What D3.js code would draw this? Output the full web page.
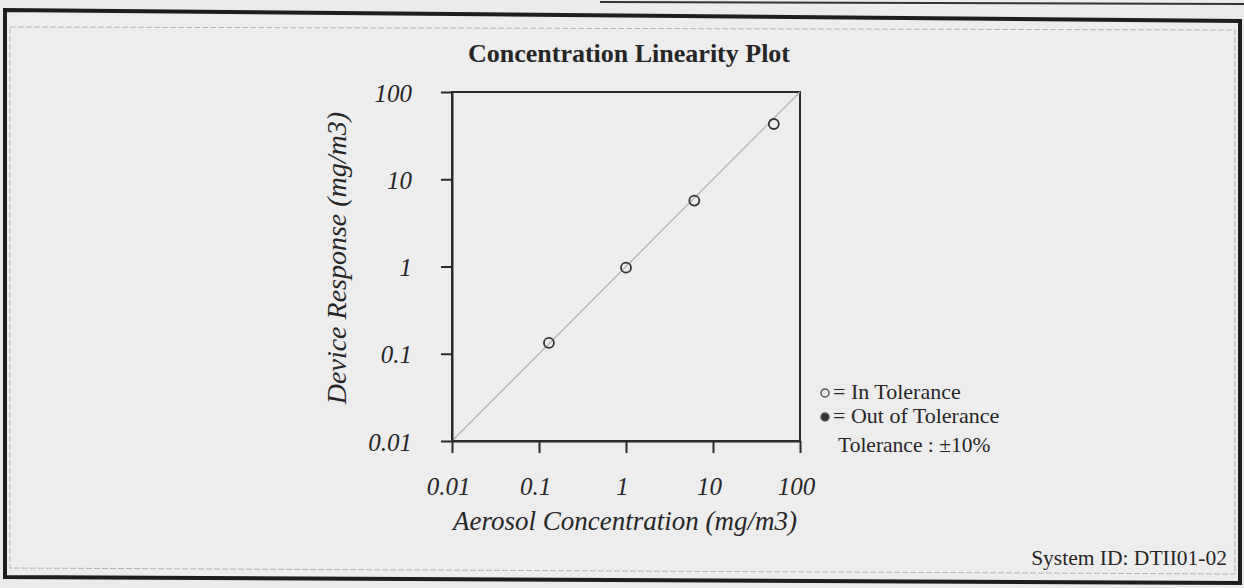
<!DOCTYPE html>
<meta charset="utf-8">
<style>
  body { margin: 0; background: #ebebeb; }
  svg { display: block; }
  text { font-family: "Liberation Serif", "Times New Roman", serif; fill: #262626; }
</style>
<body>
<svg width="1244" height="588"></svg>

<script src="https://d3js.org/d3.v7.min.js"></script>
<script>

// values
var concentration = [0.13, 1.0, 6.1, 50];    // aerosol concentration (mg/m3)
var response      = [0.133, 0.97, 5.7, 43];   // device response (mg/m3)
var inTolerance   = [true, true, true, true];
var tickValues = [0.01, 0.1, 1, 10, 100];
var tickLabels = ["0.01", "0.1", "1", "10", "100"];
var identity   = [0.01, 100];   // the 1:1 reference line
var legendItems = ["= In Tolerance", "= Out of Tolerance"];

var svg = d3.select("svg");

// page border of the scanned report (slightly rotated in the scan)
svg.append("path")
    .attr("d", "M5,10 L1240,21 L1240,583 L5,577 Z")
    .attr("fill", "#ededed")
    .attr("stroke", "#1e1e1e")
    .attr("stroke-width", 4);
svg.append("path")
    .attr("d", "M10,27 L1235,30 L1235,574 L10,568 Z")
    .attr("fill", "none")
    .attr("stroke", "#b5b5b5")
    .attr("stroke-width", 1)
    .attr("stroke-dasharray", "6,2");
svg.append("line")
    .attr("x1", 600).attr("y1", 2).attr("x2", 1244).attr("y2", 4)
    .attr("stroke", "#333").attr("stroke-width", 2);

var x = d3.scaleLog().domain([0.01, 100]).range([452, 800]),
    y = d3.scaleLog().domain([0.01, 100]).range([441, 92]);

// title
svg.append("text")
    .attr("x", 629).attr("y", 62)
    .attr("text-anchor", "middle")
    .style("font-weight", "bold")
    .style("font-size", "26px")
    .text("Concentration Linearity Plot");

// frame
svg.append("rect")
    .attr("x", x(0.01)).attr("y", y(100))
    .attr("width", x(100) - x(0.01))
    .attr("height", y(0.01) - y(100))
    .attr("fill", "none")
    .attr("stroke", "#2a2a2a")
    .attr("stroke-width", 2);

// 1:1 line
svg.append("path")
    .datum(identity)
    .attr("d", d3.line().x(function(d) { return x(d); }).y(function(d) { return y(d); }))
    .attr("stroke", "#b0b0b0")
    .attr("stroke-width", 1.2)
    .attr("fill", "none");

// axes
var xAxis = svg.append("g")
    .attr("transform", "translate(0," + y(0.01) + ")")
    .call(d3.axisBottom(x).tickValues(tickValues).tickSize(12).tickSizeOuter(0)
        .tickFormat(function(d, i) { return tickLabels[i]; }));

var yAxis = svg.append("g")
    .attr("transform", "translate(" + x(0.01) + ",0)")
    .call(d3.axisLeft(y).tickValues(tickValues).tickSize(11).tickSizeOuter(0)
        .tickFormat(function(d, i) { return tickLabels[i]; }));

[xAxis, yAxis].forEach(function(g) {
  g.select(".domain").attr("stroke", "#2a2a2a").attr("stroke-width", 2);
  g.selectAll(".tick line").attr("stroke", "#2a2a2a").attr("stroke-width", 2);
  g.selectAll(".tick text")
      .attr("fill", "#262626")
      .style("font-family", "'Liberation Serif', serif")
      .style("font-style", "italic")
      .style("font-size", "25px");
});

xAxis.selectAll(".tick text")
    .attr("y", 54).attr("dy", 0).attr("dx", -4);
yAxis.selectAll(".tick text")
    .attr("x", -40).attr("dy", "0.36em");

// axis titles
svg.append("text")
    .attr("x", 625).attr("y", 530)
    .attr("text-anchor", "middle")
    .style("font-style", "italic")
    .style("font-size", "27px")
    .text("Aerosol Concentration (mg/m3)");

svg.append("text")
    .attr("transform", "translate(346,258) rotate(-90)")
    .attr("text-anchor", "middle")
    .style("font-style", "italic")
    .style("font-size", "28px")
    .text("Device Response (mg/m3)");

// data points
svg.selectAll(".pt")
    .data(concentration)
  .enter().append("circle")
    .attr("class", "pt")
    .attr("cx", function(d) { return x(d); })
    .attr("cy", function(d, i) { return y(response[i]); })
    .attr("r", 5)
    .attr("fill", function(d, i) { return inTolerance[i] ? "none" : "#333"; })
    .attr("stroke", "#333")
    .attr("stroke-width", 1.8);

// legend
var legend = svg.selectAll(".legend")
    .data(legendItems)
  .enter().append("g")
    .attr("class", "legend")
    .attr("transform", function(d, i) { return "translate(825," + (393 + i * 24) + ")"; });

legend.append("circle")
    .attr("r", 4)
    .attr("fill", function(d, i) { return i == 0 ? "none" : "#333"; })
    .attr("stroke", "#555")
    .attr("stroke-width", 1.5);

legend.append("text")
    .attr("x", 8).attr("y", 6)
    .style("font-size", "22px")
    .text(function(d) { return d; });

svg.append("text")
    .attr("x", 838).attr("y", 452)
    .style("font-size", "21.5px")
    .text("Tolerance : \u00b110%");

svg.append("text")
    .attr("x", 1227).attr("y", 565)
    .attr("text-anchor", "end")
    .style("font-size", "21.5px")
    .text("System ID: DTII01-02");

</script>
</body>
